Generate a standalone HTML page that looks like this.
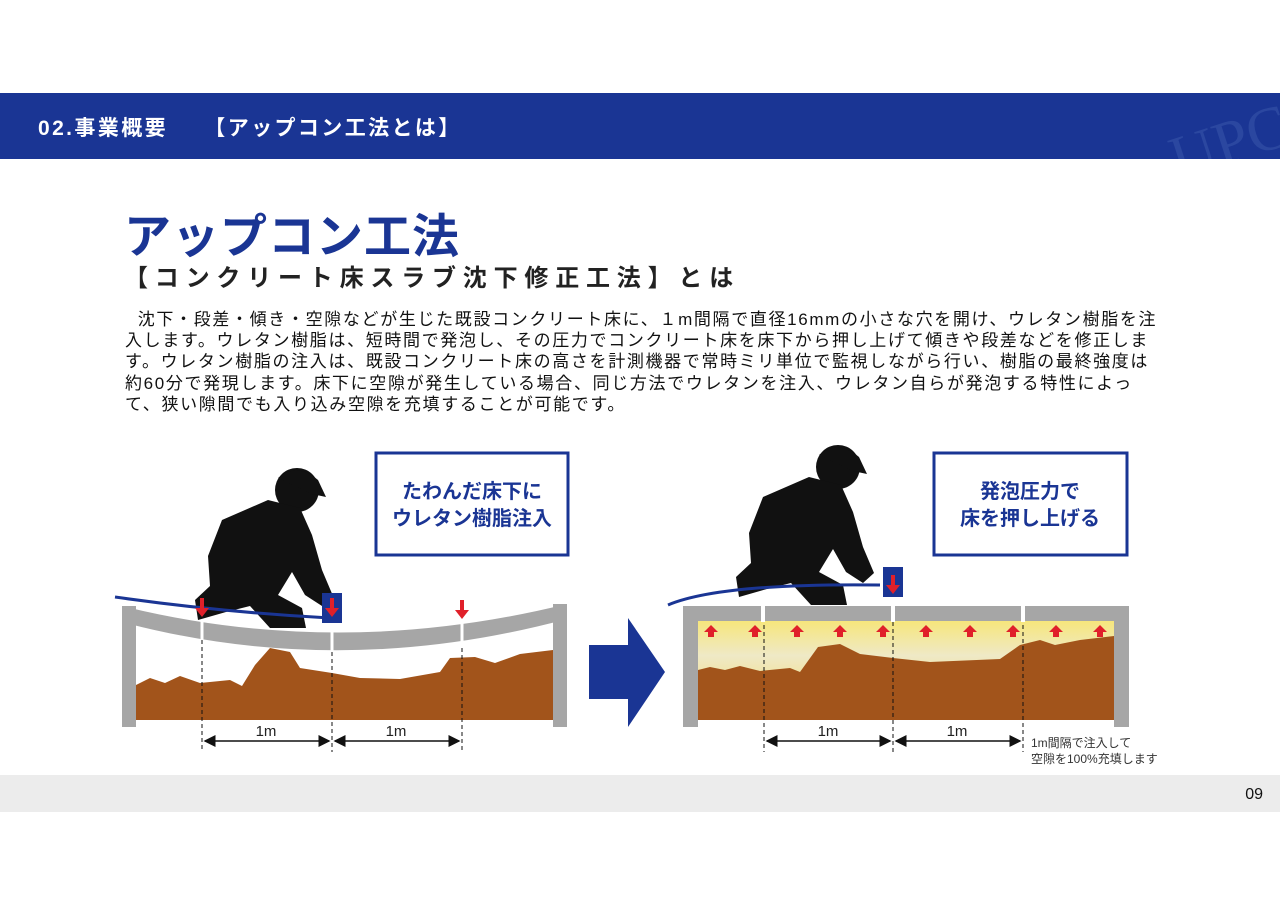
<!DOCTYPE html>
<html><head><meta charset="utf-8"><style>
body{margin:0;width:1280px;height:905px;background:#fff;position:relative;overflow:hidden;font-family:"Liberation Sans","Noto Sans CJK JP",sans-serif}
.hdr{position:absolute;left:0;top:93px;width:1280px;height:66px;background:#1a3594;overflow:hidden}
.hdr span{position:absolute;left:38px;top:19px;color:#fff;font-weight:bold;font-size:21px;white-space:pre;letter-spacing:2.4px}
.t1{position:absolute;left:124px;top:198px;font-size:47px;font-weight:bold;color:#1a3594;letter-spacing:1px}
.t2{position:absolute;left:124px;top:258px;font-size:24px;font-weight:bold;color:#222;letter-spacing:6.8px;white-space:nowrap}
.p{position:absolute;left:125px;top:309px;font-size:17px;line-height:21.2px;color:#111;white-space:nowrap;letter-spacing:1.65px}
.ft{position:absolute;left:0;top:775px;width:1280px;height:37px;background:#ececec}
.ft span{position:absolute;right:17px;top:11px;font-size:16px;color:#111}
svg{position:absolute;left:0;top:0}
</style></head><body>
<div class="hdr"><span>02.事業概要　　【アップコン工法とは】</span>
<svg width="160" height="66" style="left:1120px"><text x="45" y="78" font-size="62" font-family="Liberation Serif" fill="#2b47a0" transform="rotate(-18 80 40)">UPC</text></svg></div>
<div class="t1">アップコン工法</div>
<div class="t2">【コンクリート床スラブ沈下修正工法】とは</div>
<div class="p">&nbsp;&nbsp;沈下・段差・傾き・空隙などが生じた既設コンクリート床に、１m間隔で直径16mmの小さな穴を開け、ウレタン樹脂を注<br>入します。ウレタン樹脂は、短時間で発泡し、その圧力でコンクリート床を床下から押し上げて傾きや段差などを修正しま<br>す。ウレタン樹脂の注入は、既設コンクリート床の高さを計測機器で常時ミリ単位で監視しながら行い、樹脂の最終強度は<br>約60分で発現します。床下に空隙が発生している場合、同じ方法でウレタンを注入、ウレタン自らが発泡する特性によっ<br>て、狭い隙間でも入り込み空隙を充填することが可能です。</div>
<div class="ft"><span>09</span></div>
<svg width="1280" height="905">
<defs>
<marker id="ah" markerWidth="8" markerHeight="8" refX="7" refY="4" orient="auto-start-reverse"><path d="M0,0L8,4L0,8z" fill="#111"/></marker>
<linearGradient id="fm" x1="0" y1="0" x2="0" y2="1"><stop offset="0" stop-color="#f6e67c"/><stop offset="0.35" stop-color="#efe9c6"/><stop offset="1" stop-color="#f3d860"/></linearGradient>
<g id="man">
<circle cx="297" cy="490" r="22" fill="#111"/>
<path d="M278,478 Q297,462 318,480 L326,497 L312,494 Z" fill="#111"/>
<path d="M268,500 L300,508 L312,535 L322,570 L333,596 L322,606 L305,595 L292,572 L278,595 L302,608 L306,628 L270,628 L250,606 L226,612 L198,620 L195,600 L210,586 L208,556 L222,520 Z" fill="#111"/>
</g>
</defs>
<!-- LEFT -->
<rect x="122" y="606" width="14" height="121" fill="#a6a6a6"/>
<rect x="553" y="604" width="14" height="123" fill="#a6a6a6"/>
<path d="M136,685 L150,678 L165,683 L180,676 L200,683 L230,680 L242,686 L255,665 L270,648 L290,652 L300,668 L332,673 L360,678 L400,679 L440,672 L450,658 L475,657 L495,663 L520,654 L553,650 L553,720 L136,720 Z" fill="#a2541b"/>
<path d="M122,606 Q340,660 567,604 L567,619 Q340,680 122,622 Z" fill="#a6a6a6"/>
<g stroke="#fff" stroke-width="3"><line x1="202" y1="615" x2="202" y2="640"/><line x1="332" y1="625" x2="332" y2="652"/><line x1="462" y1="620" x2="462" y2="648"/></g>
<use href="#man"/>
<path d="M115,597 Q220,612 330,618" stroke="#1a3594" stroke-width="3" fill="none"/>
<rect x="322" y="593" width="20" height="30" fill="#1a3594"/>
<g fill="#e0202a"><path d="M200,598h4v10h5l-7,9l-7,-9h5z"/><path d="M330,598h4v10h5l-7,9l-7,-9h5z"/><path d="M460,600h4v10h5l-7,9l-7,-9h5z"/></g>
<g stroke="#111" stroke-dasharray="4,3"><line x1="202" y1="640" x2="202" y2="752"/><line x1="332" y1="652" x2="332" y2="752"/><line x1="462" y1="648" x2="462" y2="752"/></g>
<g stroke="#111" stroke-width="1.5"><line x1="205" y1="741" x2="329" y2="741" marker-start="url(#ah)" marker-end="url(#ah)"/><line x1="335" y1="741" x2="459" y2="741" marker-start="url(#ah)" marker-end="url(#ah)"/></g>
<g font-size="15" fill="#222" text-anchor="middle"><text x="266" y="736">1m</text><text x="396" y="736">1m</text></g>
<rect x="376" y="453" width="192" height="102" fill="#fff" stroke="#1a3594" stroke-width="3"/>
<g font-size="20" font-weight="bold" fill="#1a3594" text-anchor="middle"><text x="472" y="498">たわんだ床下に</text><text x="472" y="525">ウレタン樹脂注入</text></g>
<!-- ARROW -->
<path d="M589,645 L628,645 L628,618 L665,672 L628,727 L628,699 L589,699 Z" fill="#1a3594"/>
<!-- RIGHT -->
<rect x="683" y="606" width="15" height="121" fill="#a6a6a6"/>
<rect x="1114" y="606" width="15" height="121" fill="#a6a6a6"/>
<rect x="698" y="621" width="416" height="99" fill="url(#fm)"/>
<path d="M698,670 L710,667 L725,670 L740,666 L760,671 L790,668 L800,672 L818,647 L840,644 L860,654 L893,658 L930,662 L1000,659 L1020,645 L1040,640 L1055,645 L1080,640 L1114,636 L1114,720 L698,720 Z" fill="#a2541b"/>
<rect x="683" y="606" width="446" height="15" fill="#a6a6a6"/>
<g fill="#fff"><rect x="761" y="605" width="4" height="17"/><rect x="891" y="605" width="4" height="17"/><rect x="1021" y="605" width="4" height="17"/></g>
<use href="#man" transform="translate(541,-23)"/>
<path d="M668,605 Q720,583 880,585" stroke="#1a3594" stroke-width="3" fill="none"/>
<rect x="883" y="567" width="20" height="30" fill="#1a3594"/>
<path d="M891,575h4v10h5l-7,9l-7,-9h5z" fill="#e0202a"/>
<g fill="#e0202a">
<path id="ua" d="M711,625l7,7h-4v5h-6v-5h-4z"/>
<use href="#ua" x="44"/><use href="#ua" x="86"/><use href="#ua" x="129"/><use href="#ua" x="172"/><use href="#ua" x="215"/><use href="#ua" x="259"/><use href="#ua" x="302"/><use href="#ua" x="345"/><use href="#ua" x="389"/>
</g>
<g stroke="#111" stroke-dasharray="4,3"><line x1="764" y1="625" x2="764" y2="752"/><line x1="893" y1="622" x2="893" y2="752"/><line x1="1023" y1="625" x2="1023" y2="752"/></g>
<g stroke="#111" stroke-width="1.5"><line x1="767" y1="741" x2="890" y2="741" marker-start="url(#ah)" marker-end="url(#ah)"/><line x1="896" y1="741" x2="1020" y2="741" marker-start="url(#ah)" marker-end="url(#ah)"/></g>
<g font-size="15" fill="#222" text-anchor="middle"><text x="828" y="736">1m</text><text x="957" y="736">1m</text></g>
<g font-size="12" fill="#333"><text x="1031" y="747">1m間隔で注入して</text><text x="1031" y="763">空隙を100%充填します</text></g>
<rect x="934" y="453" width="193" height="102" fill="#fff" stroke="#1a3594" stroke-width="3"/>
<g font-size="20" font-weight="bold" fill="#1a3594" text-anchor="middle"><text x="1030" y="498">発泡圧力で</text><text x="1030" y="525">床を押し上げる</text></g>
</svg>
</body></html>
